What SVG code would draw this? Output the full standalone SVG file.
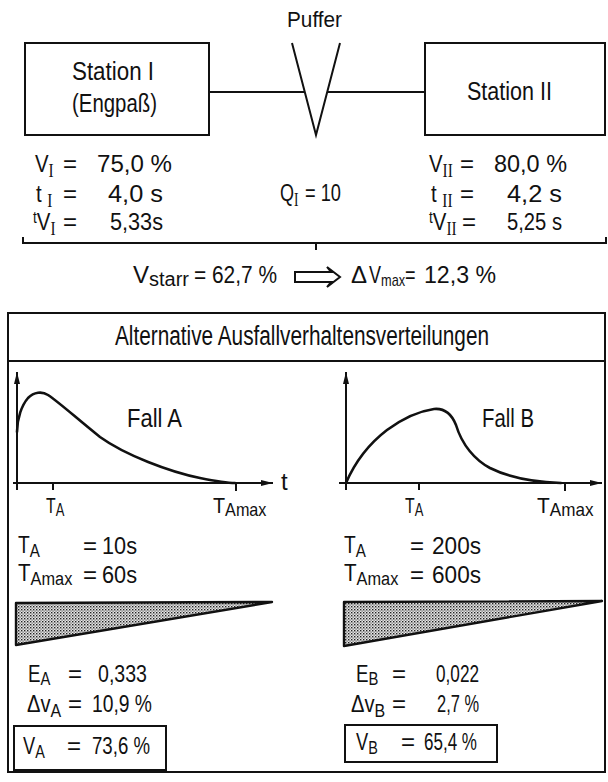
<svg xmlns="http://www.w3.org/2000/svg" width="608" height="782" viewBox="0 0 608 782">
<defs>
<style>
.t{font-family:"Liberation Sans",Arial,sans-serif;fill:#111;font-size:24px}
.r{font-family:"Liberation Serif","Times New Roman",serif;font-size:18px}
.sb{font-size:19px}
.ln{stroke:#111;stroke-width:2;fill:none}
.cv{stroke:#111;stroke-width:2.6;fill:none;stroke-linecap:round}
.ax{stroke:#111;stroke-width:2;fill:none}
</style>
<pattern id="dots" width="3" height="3" patternUnits="userSpaceOnUse">
<rect width="3" height="3" fill="#e6e6e6"/>
<rect x="0" y="0" width="1.4" height="1.4" fill="#222"/>
<rect x="1.5" y="1.5" width="1.2" height="1.2" fill="#555"/>
</pattern>
<marker id="ah" viewBox="0 0 12 8" refX="12" refY="4" markerWidth="12" markerHeight="8" markerUnits="userSpaceOnUse" orient="auto">
<path d="M0,1 L12,4 L0,7 Z" fill="#111"/>
</marker>
</defs>
<rect width="608" height="782" fill="#fff"/>

<g id="puffer">
<text class="t" x="287" y="27" style="font-size:22px" textLength="55" lengthAdjust="spacingAndGlyphs">Puffer</text>
<path class="ln" d="M292,43 L316,135 L340,43"/>
</g>

<g id="station1">
<rect class="ln" x="25" y="43" width="184" height="92"/>
<text class="t" x="72" y="80" style="font-size:26px" textLength="82" lengthAdjust="spacingAndGlyphs">Station I</text>
<text class="t" x="72" y="112" style="font-size:26px" textLength="85" lengthAdjust="spacingAndGlyphs">(Engpaß)</text>
</g>

<g id="station2">
<rect class="ln" x="425" y="43" width="180" height="92"/>
<text class="t" x="467" y="100" style="font-size:26px" textLength="85" lengthAdjust="spacingAndGlyphs">Station II</text>
</g>

<g id="connectors">
<line class="ln" x1="209" y1="92" x2="305" y2="92"/>
<line class="ln" x1="327" y1="92" x2="425" y2="92"/>
<path class="ln" d="M23,237 V243 H606 V237 M316,243 V250"/>
<path class="ln" d="M295,272 H331 L327,267 L340,277 L327,287 L331,282 H295 Z" stroke-width="1.6"/>
</g>

<g id="values1">
<text class="t" transform="translate(35,172) scale(0.85,1)">V<tspan class="r" dy="5">I</tspan></text>
<text class="t" x="63" y="172">=</text>
<text class="t" x="97" y="172" textLength="75" lengthAdjust="spacingAndGlyphs">75,0  %</text>
<text class="t" transform="translate(36,202) scale(0.85,1)">t <tspan class="r" dy="5">I</tspan></text>
<text class="t" x="63" y="202">=</text>
<text class="t" x="108" y="202" textLength="55" lengthAdjust="spacingAndGlyphs">4,0  s</text>
<text class="t" transform="translate(33,230) scale(0.85,1)"><tspan style="font-size:16px" dy="-7">t</tspan><tspan dy="7">V</tspan><tspan class="r" dy="5">I</tspan></text>
<text class="t" x="63" y="230">=</text>
<text class="t" x="110" y="230" textLength="53" lengthAdjust="spacingAndGlyphs">5,33s</text>
</g>

<g id="values2">
<text class="t" transform="translate(429,172) scale(0.85,1)">V<tspan class="r" dy="5">II</tspan></text>
<text class="t" x="460" y="172">=</text>
<text class="t" x="494" y="172" textLength="73" lengthAdjust="spacingAndGlyphs">80,0  %</text>
<text class="t" transform="translate(431,202) scale(0.85,1)">t <tspan class="r" dy="5">II</tspan></text>
<text class="t" x="460" y="202">=</text>
<text class="t" x="507" y="202" textLength="55" lengthAdjust="spacingAndGlyphs">4,2  s</text>
<text class="t" transform="translate(429,230) scale(0.85,1)"><tspan style="font-size:16px" dy="-7">t</tspan><tspan dy="7">V</tspan><tspan class="r" dy="5">II</tspan></text>
<text class="t" x="462" y="230">=</text>
<text class="t" x="507" y="230" textLength="55" lengthAdjust="spacingAndGlyphs">5,25 s</text>
</g>

<g id="qi">
<text class="t" transform="translate(280,201) scale(0.75,1)">Q<tspan class="r" dy="5">I</tspan></text>
<text class="t" x="305" y="201" textLength="36" lengthAdjust="spacingAndGlyphs">= 10</text>
</g>

<g id="result">
<text class="t" x="133" y="283">V<tspan style="font-size:20px" dy="3">starr</tspan></text>
<text class="t" x="194" y="283" textLength="83" lengthAdjust="spacingAndGlyphs">= 62,7 %</text>
<text class="t" x="351" y="283">Δ</text>
<text class="t" transform="translate(369,283) scale(0.75,1)">V<tspan style="font-size:17px" dy="3">max</tspan><tspan dy="-3">=</tspan></text>
<text class="t" x="424" y="283" textLength="72" lengthAdjust="spacingAndGlyphs">12,3 %</text>
</g>

<g id="panel">
<rect class="ln" x="8" y="313" width="597" height="459"/>
<line class="ln" x1="8" y1="361" x2="605" y2="361"/>
<text class="t" x="115" y="345" style="font-size:27px" textLength="374" lengthAdjust="spacingAndGlyphs">Alternative Ausfallverhaltensverteilungen</text>
</g>

<g id="chartA">
<line class="ax" x1="17" y1="490" x2="17" y2="372" marker-end="url(#ah)"/>
<line class="ax" x1="13" y1="483" x2="273" y2="483" marker-end="url(#ah)"/>
<line class="ax" x1="53" y1="483" x2="53" y2="490"/>
<line class="ax" x1="236" y1="483" x2="236" y2="491"/>
<path class="cv" d="M17,432 C17,418 22,405 28,398 C34,392 42,391 48,395 C60,403 75,417 100,437 C125,455 170,472 200,478 C215,481 225,483 235,483"/>
<text class="t" x="127" y="427" style="font-size:25px" textLength="55" lengthAdjust="spacingAndGlyphs">Fall A</text>
<text class="t" x="281" y="490">t</text>
<text class="t" style="font-size:22px" transform="translate(46,513) scale(0.72,1)">T<tspan style="font-size:18px" dy="3">A</tspan></text>
<text class="t" style="font-size:22px" transform="translate(213,513) scale(0.9,1)">T<tspan style="font-size:18px" dy="3">Amax</tspan></text>
</g>

<g id="chartB">
<line class="ax" x1="346" y1="490" x2="346" y2="372" marker-end="url(#ah)"/>
<line class="ax" x1="339" y1="483" x2="602" y2="483" marker-end="url(#ah)"/>
<line class="ax" x1="419" y1="483" x2="419" y2="490"/>
<line class="ax" x1="565" y1="483" x2="565" y2="491"/>
<path class="cv" d="M346,483 C355,462 370,443 387,430 C402,419 420,411 434,409 C445,408 452,415 456,425 C462,445 475,460 490,468 C510,478 535,482 561,483"/>
<text class="t" x="482" y="427" style="font-size:25px" textLength="52" lengthAdjust="spacingAndGlyphs">Fall B</text>
<text class="t" style="font-size:22px" transform="translate(405,513) scale(0.72,1)">T<tspan style="font-size:18px" dy="3">A</tspan></text>
<text class="t" style="font-size:22px" transform="translate(537,513) scale(0.95,1)">T<tspan style="font-size:18px" dy="3">Amax</tspan></text>
</g>

<g id="caseA">
<text class="t" transform="translate(18,553) scale(0.8,1)">T<tspan class="sb" dy="4">A</tspan></text>
<text class="t" x="83" y="554">=</text>
<text class="t" x="102" y="554" textLength="35" lengthAdjust="spacingAndGlyphs">10s</text>
<text class="t" transform="translate(18,581) scale(0.86,1)">T<tspan class="sb" dy="4">Amax</tspan></text>
<text class="t" x="83" y="583">=</text>
<text class="t" x="102" y="583" textLength="35" lengthAdjust="spacingAndGlyphs">60s</text>
<polygon points="16,603 272,602 16,645" fill="url(#dots)" stroke="#111" stroke-width="2.4" stroke-linejoin="round"/>
<text class="t" transform="translate(28,682) scale(0.78,1)">E<tspan class="sb" dy="3">A</tspan></text>
<text class="t" x="68" y="682">=</text>
<text class="t" x="98" y="682" textLength="49" lengthAdjust="spacingAndGlyphs">0,333</text>
<text class="t" transform="translate(27,712) scale(0.84,1)">Δv<tspan class="sb" dy="5">A</tspan></text>
<text class="t" x="68" y="712">=</text>
<text class="t" x="92" y="712" textLength="60" lengthAdjust="spacingAndGlyphs">10,9  %</text>
<rect class="ln" x="14" y="726" width="152" height="44"/>
<text class="t" transform="translate(23,754) scale(0.76,1)">V<tspan class="sb" dy="4">A</tspan></text>
<text class="t" x="67" y="754">=</text>
<text class="t" x="92" y="754" textLength="58" lengthAdjust="spacingAndGlyphs">73,6 %</text>
</g>

<g id="caseB">
<text class="t" transform="translate(344,553) scale(0.8,1)">T<tspan class="sb" dy="4">A</tspan></text>
<text class="t" x="410" y="554">=</text>
<text class="t" x="432" y="554" textLength="49" lengthAdjust="spacingAndGlyphs">200s</text>
<text class="t" transform="translate(344,581) scale(0.86,1)">T<tspan class="sb" dy="4">Amax</tspan></text>
<text class="t" x="410" y="583">=</text>
<text class="t" x="432" y="583" textLength="49" lengthAdjust="spacingAndGlyphs">600s</text>
<polygon points="344,602 602,601 344,646" fill="url(#dots)" stroke="#111" stroke-width="2.4" stroke-linejoin="round"/>
<text class="t" transform="translate(356,682) scale(0.78,1)">E<tspan class="sb" dy="3">B</tspan></text>
<text class="t" x="392" y="682">=</text>
<text class="t" x="436" y="682" textLength="43" lengthAdjust="spacingAndGlyphs">0,022</text>
<text class="t" transform="translate(351,712) scale(0.84,1)">Δv<tspan class="sb" dy="5">B</tspan></text>
<text class="t" x="392" y="712">=</text>
<text class="t" x="437" y="712" textLength="42" lengthAdjust="spacingAndGlyphs">2,7 %</text>
<rect class="ln" x="345" y="725" width="152" height="37"/>
<text class="t" transform="translate(356,750) scale(0.76,1)">V<tspan class="sb" dy="4">B</tspan></text>
<text class="t" x="401" y="750">=</text>
<text class="t" x="424" y="750" textLength="53" lengthAdjust="spacingAndGlyphs">65,4 %</text>
</g>
</svg>
